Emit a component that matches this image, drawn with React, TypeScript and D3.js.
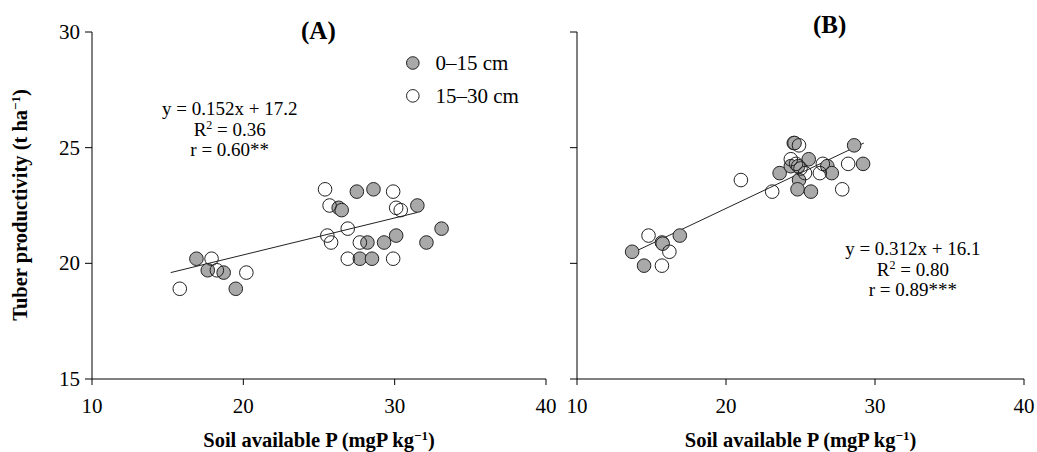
import React from "react";
import * as d3 from "d3";

// shared axis setup
const xDomain = [10, 40];
const yDomain = [15, 30];
const xTicks = [10, 20, 30, 40];
const yTicks = [15, 20, 25, 30];

// panel A : 0-15 cm (filled) and 15-30 cm (open)
const topA = [
	[16.9, 20.2], [17.65, 19.7], [18.7, 19.6], [19.5, 18.9],
	[27.5, 23.1], [28.6, 23.2], [26.3, 22.4], [26.5, 22.3],
	[31.5, 22.5], [33.1, 21.5], [30.1, 21.2], [29.3, 20.9],
	[28.2, 20.9], [27.7, 20.2], [28.5, 20.2], [32.1, 20.9]
];
const subA = [
	[15.8, 18.9], [17.9, 20.2], [18.25, 19.7], [20.2, 19.6],
	[25.4, 23.2], [25.7, 22.5], [25.55, 21.2], [25.8, 20.9],
	[26.9, 21.5], [26.9, 20.2], [27.7, 20.9], [29.9, 23.1],
	[30.1, 22.4], [30.4, 22.3], [29.9, 20.2]
];
const trendA = [[15.2, 19.6], [31.5, 22.2]];
const eqA = ["y = 0.152x + 17.2", "R² = 0.36", "r = 0.60**"];

// panel B
const topB = [
	[13.7, 20.5], [14.5, 19.9], [15.7, 20.9], [15.75, 20.85],
	[16.9, 21.2], [23.6, 23.9], [24.35, 24.2], [24.55, 25.2],
	[24.6, 25.2], [25.55, 24.5], [24.85, 24.2], [24.9, 23.6],
	[24.8, 23.2], [25.7, 23.1], [26.8, 24.2], [27.1, 23.9],
	[28.6, 25.1], [29.2, 24.3]
];
const subB = [
	[14.8, 21.2], [15.7, 19.9], [16.2, 20.5], [21.0, 23.6],
	[23.1, 23.1], [24.35, 24.5], [24.9, 25.1], [24.7, 24.3],
	[25.3, 23.9], [26.3, 23.9], [26.5, 24.3], [28.2, 24.3],
	[27.8, 23.2], [25.0, 24.1]
];
const trendB = [[13.7, 20.45], [29.25, 25.2]];
const eqB = ["y = 0.312x + 16.1", "R² = 0.80", "r = 0.89***"];

const font = "'Liberation Serif', 'Times New Roman', serif";
const grey = "#a9a9a9";

const Panel = ({left, right, label, labelAt, top, sub, trend, eq, eqAt, showY, legend}) => {

	let xScale = d3.scaleLinear().domain(xDomain).range([left, right]);
	let yScale = d3.scaleLinear().domain(yDomain).range([379, 32]);

	let line = d3.line()
				.x(d => xScale(d[0]))
				.y(d => yScale(d[1]));

	let y0 = yScale(yDomain[0]);
	let cx = (left + right) / 2;

	return (
		<g fontFamily={font}>
			<line x1={left} x2={left} y1={yScale(30)} y2={y0} stroke="#000" />
			<line x1={left} x2={right} y1={y0} y2={y0} stroke="#000" />
			{yTicks.map(t => (
				<g key={"y" + t}>
					<line x1={left - 7} x2={left} y1={yScale(t)} y2={yScale(t)} stroke="#000" />
					{showY && <text x={left - 12} y={yScale(t) + 7} fontSize={21} textAnchor="end">{t}</text>}
				</g>
			))}
			{xTicks.map(t => (
				<g key={"x" + t}>
					<line x1={xScale(t)} x2={xScale(t)} y1={y0} y2={y0 + 6} stroke="#000" />
					<text x={xScale(t)} y={y0 + 34} fontSize={21} textAnchor="middle">{t}</text>
				</g>
			))}
			<text x={cx} y={447} fontSize={20.5} fontWeight="bold" textAnchor="middle">
				Soil available P (mgP kg<tspan dy={-7} fontSize={13}>−1</tspan><tspan dy={7}>)</tspan>
			</text>
			<text x={xScale(labelAt[0])} y={yScale(labelAt[1]) + 8} fontSize={25} fontWeight="bold" textAnchor="middle">{label}</text>

			<path d={line(trend)} fill="none" stroke="#222" strokeWidth={1} />
			{top.map((d, i) => (
				<circle key={"t" + i} cx={xScale(d[0])} cy={yScale(d[1])} r={6.8} fill={grey} stroke="#222" strokeWidth={1} />
			))}
			{sub.map((d, i) => (
				<circle key={"s" + i} cx={xScale(d[0])} cy={yScale(d[1])} r={6.8} fill="none" stroke="#222" strokeWidth={1} />
			))}

			{eq.map((s, i) => (
				<text key={"e" + i} x={xScale(eqAt[0])} y={yScale(eqAt[1]) + i * 20.5 + 6} fontSize={19} textAnchor="middle">
					{s.startsWith("R²") ? <>R<tspan dy={-7} fontSize={12}>2</tspan><tspan dy={7}>{s.slice(2)}</tspan></> : s}
				</text>
			))}

			{legend && (
				<g>
					<circle cx={xScale(31.2)} cy={yScale(28.66)} r={6.3} fill={grey} stroke="#222" />
					<text x={xScale(32.7)} y={yScale(28.66) + 7} fontSize={21}>0–15 cm</text>
					<circle cx={xScale(31.2)} cy={yScale(27.24)} r={6.3} fill="none" stroke="#222" />
					<text x={xScale(32.7)} y={yScale(27.24) + 7} fontSize={21}>15–30 cm</text>
				</g>
			)}
		</g>
	);
};

export default function App() {
	return (
		<svg width={1037} height={452} style={{position: "absolute", left: 0, top: 0, background: "#fff"}}>
			<text transform="translate(27, 205) rotate(-90)" fontFamily={font} fontSize={20.5} fontWeight="bold" textAnchor="middle">
				Tuber productivity (t ha<tspan dy={-7} fontSize={13}>−1</tspan><tspan dy={7}>)</tspan>
			</text>
			<Panel left={92} right={546} label="(A)" labelAt={[24.96, 30.05]} top={topA} sub={subA}
				trend={trendA} eq={eqA} eqAt={[19.1, 26.65]} showY={true} legend={true} />
			<Panel left={577} right={1024} label="(B)" labelAt={[26.95, 30.3]} top={topB} sub={subB}
				trend={trendB} eq={eqB} eqAt={[32.54, 20.6]} showY={false} legend={false} />
		</svg>
	);
}
